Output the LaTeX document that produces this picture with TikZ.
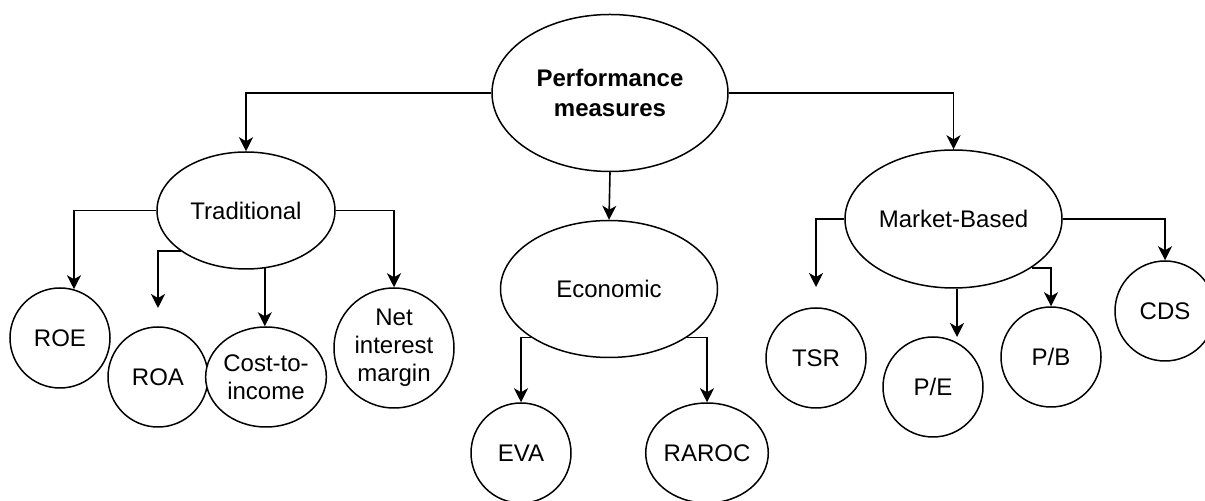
\documentclass[tikz,border=0pt]{standalone}
\usepackage{fontspec}
\setmainfont{Liberation Sans}
\usetikzlibrary{shapes.geometric,arrows.meta}
\begin{document}
\begin{tikzpicture}[x=0.5pt,y=-0.5pt,
  base/.style={draw=black,line width=0.75pt,fill=white,ellipse,inner sep=0pt,align=center,
    font=\fontsize{12}{14}\selectfont},
  oval/.style={base,minimum width=#1},
  ovalh/.style={minimum height=#1},
  circ/.style={base,minimum width=50pt,minimum height=50pt},
  bigcirc/.style={base,minimum width=60pt,minimum height=60pt},
  arr/.style={draw=black,line width=0.8pt,-{Stealth[length=7pt,width=7pt,inset=2pt]}}]
\useasboundingbox (0,0) rectangle (1205,501);
\fill[white] (0,0) rectangle (1205,501);
% main nodes
\node[oval=118pt,ovalh=78.5pt,font=\fontsize{12}{15}\selectfont\bfseries] (pm) at (610,93) {Performance\\measures};
\node[oval=89pt,ovalh=58.5pt] (trad) at (246,210.5) {Traditional};
\node[oval=108.5pt,ovalh=68.5pt] (econ) at (609,289) {Economic};
\node[oval=108.5pt,ovalh=69pt] (mkt) at (953.5,219) {Market-Based};
% leaves
\node[circ] (roe) at (60,338) {ROE};
\node[circ] (roa) at (158,377) {ROA};
\node[circ] (cti) at (266,377) {Cost-to-\\income};
\node[bigcirc] (nim) at (394,348) {Net\\interest\\margin};
\node[circ] (eva) at (521,453) {EVA};
\node[circ] (raroc) at (707,453) {RAROC};
\node[circ] (tsr) at (816,358) {TSR};
\node[circ] (pe) at (933,387) {P/E};
\node[circ] (pb) at (1051,357) {P/B};
\node[circ] (cds) at (1165,311) {CDS};
% free ends
\coordinate (roaEnd) at (158,308);
\coordinate (tsrEnd) at (816,287);
\coordinate (peEnd) at (957,337);
% connectors
\draw[arr] (pm.west) -| (trad.north);
\draw[arr] (pm.east) -| (mkt.north);
\draw[arr] (pm.south) -- (econ.north);
\draw[arr] (trad.west) -| (roe.74);
\draw[arr] (trad.212) -| (roaEnd);
\draw[arr] (trad.-72) -- (trad.-72 |- cti.north);
\draw[arr] (trad.east) -| (nim.north);
\draw[arr] (econ.212) -| (eva.north);
\draw[arr] (econ.-32) -| (raroc.north);
\draw[arr] (mkt.west) -| (tsrEnd);
\draw[arr] (mkt.south -| peEnd) -- (peEnd);
\draw[arr] (mkt.-32) -| (pb.north);
\draw[arr] (mkt.east) -| (cds.north);
\end{tikzpicture}
\end{document}
